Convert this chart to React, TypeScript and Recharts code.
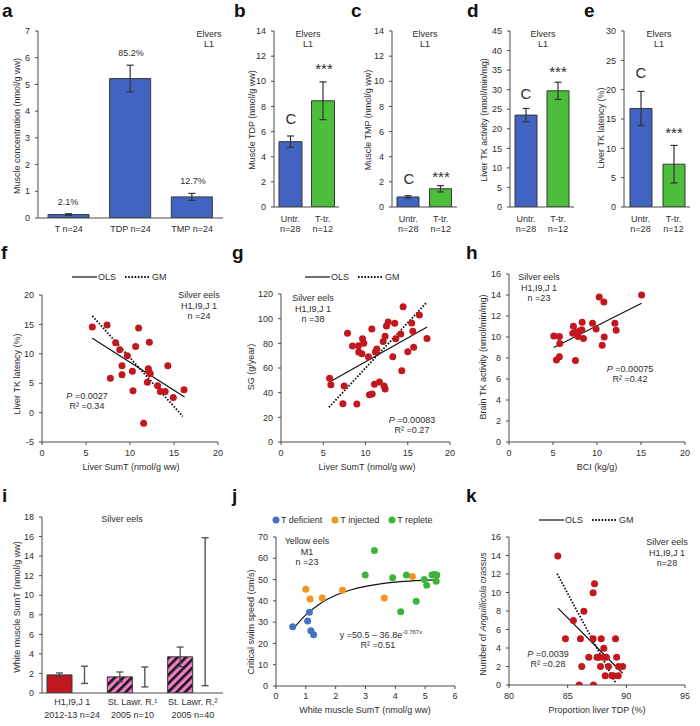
import React from 'react';
import { BarChart, Bar, XAxis, YAxis, ErrorBar, ComposedChart, Scatter, Line, Cell } from 'recharts';

const FONT = '"Liberation Sans", Arial, Helvetica, sans-serif';
const INK = '#2e2e2e';
const AXIS = '#4a4a4a';
const BLUE = '#4163c1';
const GREEN = '#4dbe3b';
const RED = '#c3171f';
const PINK = '#f27cc8';
const J_BLUE = '#4472c4';
const J_ORANGE = '#f39321';
const J_GREEN = '#3db43b';

// a: thiamine forms in elver muscle
const formNames = ['T n=24', 'TDP n=24', 'TMP n=24'];
const formMeans = [0.13, 5.22, 0.79];
const formErr = [0.03, 0.5, 0.13];
const formShare = ['2.1%', '85.2%', '12.7%'];
const formTicks = [0, 1, 2, 3, 4, 5, 6, 7];

// b-e: untreated vs thiamine-treated elvers
const groupNames = ['Untr.|n=28', 'T-tr.|n=12'];
const tdpMeans = [5.2, 8.45];
const tdpErr = [0.45, 1.5];
const tmpMeans = [0.8, 1.45];
const tmpErr = [0.1, 0.25];
const tkActMeans = [23.5, 29.7];
const tkActErr = [1.7, 2.2];
const tkLatMeans = [16.8, 7.3];
const tkLatErr = [2.9, 3.2];
const ticks14 = [0, 2, 4, 6, 8, 10, 12, 14];
const ticks45 = [0, 5, 10, 15, 20, 25, 30, 35, 40, 45];
const ticks30 = [0, 5, 10, 15, 20, 25, 30];

// f: liver SumT vs liver TK latency
const fPoints = [[5.72, 14.57], [7.39, 14.9], [8.37, 11.9], [8.83, 10.67], [9.7, 9.65], [10.64, 11.23], [10.98, 14.4], [12.2, 11.97], [9.09, 7.95], [7.77, 5.86], [9.09, 6.42], [10.27, 7.05], [10.34, 3.71], [12.08, 7.44], [12.3, 6.6], [12.15, 7.0], [11.97, 5.18], [13.14, 4.56], [13.45, 3.6], [14.0, 3.6], [14.3, 7.95], [14.92, 2.58], [16.14, 3.88], [11.55, -1.83]];
const fOls = [[5.72, 12.65], [16.2, 2.64]];
const fGm = [[5.72, 16.44], [16.0, -0.64]];
const fYTicks = [-5, 0, 5, 10, 15, 20];
const sumTTicks = [0, 5, 10, 15, 20];

// g: liver SumT vs growth
const gPoints = [[5.75, 51.6], [5.9, 46.5], [7.48, 45.4], [7.32, 31.1], [7.87, 88.1], [8.46, 77.8], [8.98, 30.8], [9.17, 78.1], [9.2, 73], [9.57, 71.6], [9.65, 83.8], [9.8, 80], [10.35, 69.2], [10.75, 91.6], [10.47, 38.4], [10.79, 38.9], [11.06, 46.8], [11.18, 73], [11.34, 75.4], [11.65, 48.6], [12.2, 45.4], [12.32, 43], [12.09, 81.4], [12.32, 85.7], [12.48, 94], [12.68, 97.3], [13.23, 69.2], [13.46, 96.2], [13.58, 83.8], [14.17, 87.6], [14.29, 57.8], [14.45, 109.7], [15.0, 73.2], [15.47, 96.5], [15.6, 89.7], [15.7, 76.8], [16.38, 103], [17.28, 84]];
const gOls = [[5.75, 48.6], [17.3, 93.2]];
const gGm = [[5.67, 28.1], [17.24, 113.2]];
const gYTicks = [0, 20, 40, 60, 80, 100, 120];

// h: BCI vs brain TK activity
const hPoints = [[5.09, 10.1], [5.73, 10.04], [5.77, 9.38], [5.73, 8.11], [5.39, 7.8], [7.55, 7.76], [7.32, 11.03], [7.25, 10.36], [7.51, 10.42], [7.85, 10.04], [7.97, 10.58], [8.27, 10.7], [8.31, 11.4], [8.46, 9.85], [9.49, 11.31], [9.9, 10.77], [10.25, 13.81], [10.78, 13.34], [10.59, 9.22], [10.82, 10.01], [12.03, 11.31], [12.18, 10.65], [15.07, 14.0]];
const hOls = [[5.09, 9.0], [15.07, 13.21]];
const ticks16 = [0, 2, 4, 6, 8, 10, 12, 14, 16];

// i: white muscle SumT in silver eels
const siteNames = ['H1,I9,J 1|2012-13 n=24', 'St. Lawr. R.\u00b9|2005 n=10', 'St. Lawr. R.\u00b2|2005 n=40'];
const siteMeans = [1.85, 1.65, 3.7];
const siteErr = [0.2, 0.5, 1.0];
const siteLow = [0.98, 0.62, 0.75];
const siteHigh = [2.74, 2.66, 15.88];
const ticks18 = [0, 2, 4, 6, 8, 10, 12, 14, 16, 18];

// j: white muscle SumT vs critical swim speed
const jDeficient = [[0.56, 27.8], [1.06, 30.5], [1.12, 34.6], [1.17, 26], [1.26, 24.1]];
const jInjected = [[1.0, 45.5], [1.14, 40.9], [1.55, 41.4], [2.23, 45], [3.63, 41.4], [4.57, 51.4]];
const jReplete = [[2.99, 52.2], [3.3, 63.7], [3.91, 50.8], [4.18, 34.9], [4.37, 52.2], [4.7, 39.8], [4.97, 50], [5.05, 47.3], [5.23, 52.2], [5.39, 52.2], [5.37, 49.2], [5.3, 52.4]];
const jCurveX = [0.6, 1, 1.5, 2, 2.5, 3, 3.5, 4, 4.5, 5, 5.4];
const jCurveY = [27.3, 33.4, 38.9, 42.6, 45.1, 46.8, 48.0, 48.8, 49.3, 49.7, 49.9];
const jXTicks = [0, 1, 2, 3, 4, 5, 6];
const jYTicks = [0, 10, 20, 30, 40, 50, 60, 70];

// k: liver TDP proportion vs parasites
const kPoints = [[84.16, 13.94], [85.49, 6.97], [84.81, 5], [86.38, 7.98], [86.09, 5], [86.2, 1.99], [85.98, 0], [86.8, 3], [87.29, 10.94], [87.17, 9.97], [87.17, 5], [87.2, 0], [87.86, 5], [87.69, 3], [87.8, 2], [88.08, 3.97], [88.08, 3], [88.2, 1.0], [88.48, 2], [88.77, 1], [89.08, 5], [89.17, 3], [89.31, 1], [89.34, 2], [89.68, 2], [87.5, 3], [88.3, 3], [88.9, 1]];
const kOls = [[84.18, 8.31], [89.68, 1.27]];
const kGm = [[84.1, 12.03], [89.08, 0.25]];
const kXTicks = [80, 85, 90, 95];

const YW = 34;
const MT = 6;
const MR = 10;
const XH = 34;

type Rect = [number, number, number, number];

function frame([x0, y0, x1, y1]: Rect) {
  return { left: x0 - YW, top: y0 - MT, width: x1 - x0 + YW + MR, height: y1 - y0 + MT + XH };
}

const toXY = (pts: number[][]) => pts.map(([x, y]) => ({ x, y }));

function MultiTick(props: any) {
  const { x, y, payload, dy0, gap } = props;
  const lines = String(payload.value).split('|');
  return (
    <text x={x} y={y} textAnchor="middle" fontSize={9} fill={INK} fontFamily={FONT}>
      {lines.map((l, i) => (
        <tspan key={i} x={x} dy={i === 0 ? dy0 : gap}>{l}</tspan>
      ))}
    </text>
  );
}

const yAxisProps = (ticks: number[]) => ({
  width: YW,
  type: 'number' as const,
  domain: [ticks[0], ticks[ticks.length - 1]],
  ticks,
  interval: 0 as const,
  tickSize: 3,
  tickMargin: 5,
  allowDataOverflow: true,
  axisLine: { stroke: AXIS },
  tickLine: { stroke: AXIS },
  tick: { fontSize: 9, fill: INK, fontFamily: FONT },
});

function BarPanel(props: {
  rect: Rect; names: string[]; means: number[]; errs: number[]; colors: string[];
  ticks: number[]; barSize: number; dy0: number; gap: number;
}) {
  const { rect, names, means, errs, colors, ticks, barSize, dy0, gap } = props;
  const data = names.map((name, i) => ({ name, v: means[i], e: errs[i] }));
  const f = frame(rect);
  return (
    <div style={{ position: 'absolute', left: f.left, top: f.top }}>
      <BarChart width={f.width} height={f.height} data={data} margin={{ top: MT, right: MR, bottom: 0, left: 0 }} barCategoryGap={0}>
        <XAxis dataKey="name" height={XH} interval={0} tickLine={false} tickSize={0} tickMargin={0}
          axisLine={{ stroke: AXIS }} tick={(p: any) => <MultiTick {...p} dy0={dy0} gap={gap} />} />
        <YAxis {...yAxisProps(ticks)} />
        <Bar dataKey="v" barSize={barSize} stroke="#383838" strokeWidth={1} isAnimationActive={false}>
          {data.map((d, i) => <Cell key={d.name} fill={colors[i]} />)}
          <ErrorBar dataKey="e" width={3.5} stroke="#333" strokeWidth={1.2} direction="y" />
        </Bar>
      </BarChart>
    </div>
  );
}

const dotShape = (color: string) => (p: any) => <circle cx={p.cx} cy={p.cy} r={3.5} fill={color} />;

function ScatterPanel(props: {
  rect: Rect; xTicks: number[]; yTicks: number[];
  series: { pts: number[][]; color: string }[];
  lines: { pts: number[][]; dotted?: boolean; smooth?: boolean }[];
  xTickMargin?: number;
}) {
  const { rect, xTicks, yTicks, series, lines, xTickMargin = 5 } = props;
  const f = frame(rect);
  return (
    <div style={{ position: 'absolute', left: f.left, top: f.top }}>
      <ComposedChart width={f.width} height={f.height} margin={{ top: MT, right: MR, bottom: 0, left: 0 }}>
        <XAxis type="number" dataKey="x" domain={[xTicks[0], xTicks[xTicks.length - 1]]} ticks={xTicks} interval={0}
          height={XH} tickSize={3} tickMargin={xTickMargin} allowDataOverflow axisLine={{ stroke: AXIS }}
          tickLine={{ stroke: AXIS }} tick={{ fontSize: 9, fill: INK, fontFamily: FONT }} />
        <YAxis dataKey="y" {...yAxisProps(yTicks)} />
        {series.map((s, i) => (
          <Scatter key={'s' + i} data={toXY(s.pts)} dataKey="y" fill={s.color} shape={dotShape(s.color)} isAnimationActive={false} />
        ))}
        {lines.map((l, i) => (
          <Line key={'l' + i} data={toXY(l.pts)} dataKey="y" type={l.smooth ? 'monotone' : 'linear'} stroke="#111"
            strokeWidth={l.dotted ? 1.8 : 1.2} strokeDasharray={l.dotted ? '1.6 1.6' : undefined}
            dot={false} activeDot={false} isAnimationActive={false} />
        ))}
      </ComposedChart>
    </div>
  );
}

function SitePanel() {
  const rect: Rect = [42, 517, 223, 693];
  const f = frame(rect);
  const data = siteNames.map((name, i) => {
    const mid = (siteLow[i] + siteHigh[i]) / 2;
    return { name, v: siteMeans[i], e: siteErr[i], mid, range: [mid - siteLow[i], siteHigh[i] - mid] };
  });
  return (
    <div style={{ position: 'absolute', left: f.left, top: f.top }}>
      <BarChart width={f.width} height={f.height} data={data} margin={{ top: MT, right: MR, bottom: 0, left: 0 }} barGap={0}>
        <XAxis dataKey="name" height={XH} interval={0} tickLine={false} tickSize={0} tickMargin={0}
          axisLine={{ stroke: AXIS }} tick={(p: any) => <MultiTick {...p} dy0={12} gap={13} />} />
        <YAxis {...yAxisProps(ticks18)} />
        <Bar dataKey="v" barSize={25} stroke="#383838" strokeWidth={1} isAnimationActive={false}>
          {data.map((d, i) => <Cell key={d.name} fill={i === 0 ? RED : 'url(#hatch)'} />)}
          <ErrorBar dataKey="e" width={3.5} stroke="#444" strokeWidth={1.2} direction="y" />
        </Bar>
        <Bar dataKey="mid" barSize={25} fill="none" stroke="none" isAnimationActive={false}>
          <ErrorBar dataKey="range" width={3.5} stroke="#555" strokeWidth={1.4} direction="y" />
        </Bar>
      </BarChart>
    </div>
  );
}

function Txt(props: { x: number; y: number; children: React.ReactNode; size?: number; bold?: boolean; anchor?: 'start' | 'middle' | 'end' }) {
  const { x, y, children, size = 9, bold = false, anchor = 'middle' } = props;
  const tx = anchor === 'middle' ? '-50%' : anchor === 'end' ? '-100%' : '0';
  return (
    <div style={{ position: 'absolute', left: x, top: y, transform: `translate(${tx},-50%)`, fontSize: size, fontWeight: bold ? 700 : 400, lineHeight: 1, whiteSpace: 'nowrap', color: bold ? '#111' : INK }}>
      {children}
    </div>
  );
}

function YTitle({ x, y, children }: { x: number; y: number; children: React.ReactNode }) {
  return (
    <div style={{ position: 'absolute', left: x, top: y, transform: 'translate(-50%,-50%) rotate(-90deg)', fontSize: 9, lineHeight: 1, whiteSpace: 'nowrap', color: INK }}>
      {children}
    </div>
  );
}

function FitLegend({ x, y }: { x: number; y: number }) {
  // x = left end of solid line
  return (
    <div style={{ position: 'absolute', left: x, top: y - 6, height: 12, display: 'flex', alignItems: 'center', fontSize: 9, color: INK, whiteSpace: 'nowrap' }}>
      <svg width={25} height={4}><line x1={0} y1={2} x2={25} y2={2} stroke="#111" strokeWidth={1.2} /></svg>
      <span style={{ marginLeft: 1 }}>OLS</span>
      <svg width={25} height={4} style={{ marginLeft: 9 }}><line x1={0} y1={2} x2={25} y2={2} stroke="#111" strokeWidth={1.8} strokeDasharray="1.6 1.6" /></svg>
      <span style={{ marginLeft: 2 }}>GM</span>
    </div>
  );
}

function Stats({ x, y, p, r2 }: { x: number; y: number; p: string; r2: string }) {
  return (
    <>
      <Txt x={x} y={y}><i>P</i> ={p}</Txt>
      <Txt x={x} y={y + 10}>R² ={r2}</Txt>
    </>
  );
}

function Elvers({ x }: { x: number }) {
  return (
    <>
      <Txt x={x} y={34}>Elvers</Txt>
      <Txt x={x} y={44}>L1</Txt>
    </>
  );
}

function Silver({ x, y, n }: { x: number; y: number; n: string }) {
  return (
    <>
      <Txt x={x} y={y}>Silver eels</Txt>
      <Txt x={x} y={y + 10.5}>H1,I9,J 1</Txt>
      <Txt x={x} y={y + 21}>{n}</Txt>
    </>
  );
}

export default function App() {
  const fitPts = jCurveX.map((x, i) => [x, jCurveY[i]]);
  return (
    <div style={{ position: 'absolute', left: 0, top: 0, width: 700, height: 726, background: '#fff', fontFamily: FONT, overflow: 'hidden' }}>
      <svg width={0} height={0} style={{ position: 'absolute' }}>
        <defs>
          <pattern id="hatch" width={6} height={6} patternUnits="userSpaceOnUse" patternTransform="rotate(45)">
            <rect width={6} height={6} fill={PINK} />
            <rect width={2.6} height={6} fill="#151515" />
          </pattern>
        </defs>
      </svg>

      {/* row 1 */}
      <BarPanel rect={[38, 31, 223, 218]} names={formNames} means={formMeans} errs={formErr}
        colors={[BLUE, BLUE, BLUE]} ticks={formTicks} barSize={41} dy0={14} gap={10} />
      <BarPanel rect={[274, 31, 339, 207]} names={groupNames} means={tdpMeans} errs={tdpErr}
        colors={[BLUE, GREEN]} ticks={ticks14} barSize={23} dy0={15} gap={10} />
      <BarPanel rect={[392, 31, 457, 207]} names={groupNames} means={tmpMeans} errs={tmpErr}
        colors={[BLUE, GREEN]} ticks={ticks14} barSize={22} dy0={15} gap={10} />
      <BarPanel rect={[510, 31, 574, 207]} names={groupNames} means={tkActMeans} errs={tkActErr}
        colors={[BLUE, GREEN]} ticks={ticks45} barSize={22} dy0={15} gap={10} />
      <BarPanel rect={[624, 31, 690, 207]} names={groupNames} means={tkLatMeans} errs={tkLatErr}
        colors={[BLUE, GREEN]} ticks={ticks30} barSize={22} dy0={15} gap={10} />

      {/* row 2 */}
      <ScatterPanel rect={[42, 295, 218, 442]} xTicks={sumTTicks} yTicks={fYTicks}
        series={[{ pts: fPoints, color: RED }]} lines={[{ pts: fOls }, { pts: fGm, dotted: true }]} />
      <ScatterPanel rect={[281, 294, 450, 442]} xTicks={sumTTicks} yTicks={gYTicks}
        series={[{ pts: gPoints, color: RED }]} lines={[{ pts: gOls }, { pts: gGm, dotted: true }]} />
      <ScatterPanel rect={[509, 274, 685, 442]} xTicks={sumTTicks} yTicks={ticks16}
        series={[{ pts: hPoints, color: RED }]} lines={[{ pts: hOls }]} />

      {/* row 3 */}
      <SitePanel />
      <ScatterPanel rect={[276, 537, 455, 686]} xTicks={jXTicks} yTicks={jYTicks} xTickMargin={4}
        series={[{ pts: jDeficient, color: J_BLUE }, { pts: jInjected, color: J_ORANGE }, { pts: jReplete, color: J_GREEN }]}
        lines={[{ pts: fitPts, smooth: true }]} />
      <ScatterPanel rect={[509, 537, 685, 685]} xTicks={kXTicks} yTicks={ticks16}
        series={[{ pts: kPoints, color: RED }]} lines={[{ pts: kOls }, { pts: kGm, dotted: true }]} />

      {/* panel letters */}
      <Txt x={2} y={9.5} size={19} bold anchor="start">a</Txt>
      <Txt x={234} y={9.5} size={19} bold anchor="start">b</Txt>
      <Txt x={351} y={9.5} size={19} bold anchor="start">c</Txt>
      <Txt x={467} y={9.5} size={19} bold anchor="start">d</Txt>
      <Txt x={584} y={9.5} size={19} bold anchor="start">e</Txt>
      <Txt x={1} y={252} size={19} bold anchor="start">f</Txt>
      <Txt x={232} y={252} size={19} bold anchor="start">g</Txt>
      <Txt x={466} y={252} size={19} bold anchor="start">h</Txt>
      <Txt x={2} y={495} size={19} bold anchor="start">i</Txt>
      <Txt x={232} y={495} size={19} bold anchor="start">j</Txt>
      <Txt x={466} y={495} size={19} bold anchor="start">k</Txt>

      {/* a */}
      <YTitle x={17} y={126}>Muscle concentration (nmol/g ww)</YTitle>
      <Elvers x={209} />
      <Txt x={68} y={202}>{formShare[0]}</Txt>
      <Txt x={131} y={53}>{formShare[1]}</Txt>
      <Txt x={193} y={181}>{formShare[2]}</Txt>

      {/* b */}
      <YTitle x={252} y={120}>Muscle TDP (nmol/g ww)</YTitle>
      <Elvers x={308} />
      <Txt x={291} y={118} size={15}>C</Txt>
      <Txt x={324} y={68} size={15}>***</Txt>

      {/* c */}
      <YTitle x={368} y={120}>Muscle TMP (nmol/g ww)</YTitle>
      <Elvers x={425} />
      <Txt x={409} y={178} size={15}>C</Txt>
      <Txt x={441} y={175.5} size={15}>***</Txt>

      {/* d */}
      <YTitle x={484} y={120}>Liver TK activity (nmol/min/mg)</YTitle>
      <Elvers x={543} />
      <Txt x={526} y={93} size={15}>C</Txt>
      <Txt x={558} y={70.5} size={15}>***</Txt>

      {/* e */}
      <YTitle x={601} y={128}>Liver TK latency (%)</YTitle>
      <Elvers x={659} />
      <Txt x={641} y={72} size={15}>C</Txt>
      <Txt x={674} y={132} size={15}>***</Txt>

      {/* f */}
      <FitLegend x={72} y={277} />
      <YTitle x={17} y={374}>Liver TK latency (%)</YTitle>
      <Txt x={131} y={467}>Liver SumT (nmol/g ww)</Txt>
      <Silver x={199} y={295} n="n =24" />
      <Stats x={87} y={396} p="0.0027" r2="0.34" />

      {/* g */}
      <FitLegend x={305} y={277} />
      <YTitle x={251} y={367}>SG (g/year)</YTitle>
      <Txt x={367} y={467}>Liver SumT (nmol/g ww)</Txt>
      <Silver x={313} y={298} n="n =38" />
      <Stats x={412} y={420} p="0.00083" r2="0.27" />

      {/* h */}
      <YTitle x={483} y={357}>Brain TK activity (nmol/min/mg)</YTitle>
      <Txt x={597} y={467}>BCI (kg/g)</Txt>
      <Silver x={539} y={277} n="n =23" />
      <Stats x={630} y={369} p="0.00075" r2="0.42" />

      {/* i */}
      <YTitle x={17} y={607}>White muscle SumT (nmol/g ww)</YTitle>
      <Txt x={122} y={519}>Silver eels</Txt>

      {/* j */}
      <div style={{ position: 'absolute', left: 272, top: 514, height: 12, display: 'flex', alignItems: 'center', fontSize: 9, color: INK, whiteSpace: 'nowrap' }}>
        <svg width={8} height={8}><circle cx={4} cy={4} r={3.5} fill={J_BLUE} /></svg>
        <span style={{ marginLeft: 1 }}>T deficient</span>
        <svg width={8} height={8} style={{ marginLeft: 9 }}><circle cx={4} cy={4} r={3.5} fill={J_ORANGE} /></svg>
        <span style={{ marginLeft: 1 }}>T injected</span>
        <svg width={8} height={8} style={{ marginLeft: 9 }}><circle cx={4} cy={4} r={3.5} fill={J_GREEN} /></svg>
        <span style={{ marginLeft: 1 }}>T replete</span>
      </div>
      <YTitle x={251} y={622}>Critical swim speed (cm/s)</YTitle>
      <Txt x={365} y={710}>White muscle SumT (nmol/g ww)</Txt>
      <Txt x={307} y={541}>Yellow eels</Txt>
      <Txt x={307} y={551.5}>M1</Txt>
      <Txt x={307} y={562}>n =23</Txt>
      <Txt x={381} y={634}>y =50.5 – 36.8e<sup style={{ fontSize: 6, verticalAlign: '4px' }}>-0.767x</sup></Txt>
      <Txt x={378} y={644.5}>R² =0.51</Txt>

      {/* k */}
      <FitLegend x={539} y={520} />
      <YTitle x={483} y={614}>Number of <i>Anguillicola crassus</i></YTitle>
      <Txt x={597} y={710}>Proportion liver TDP (%)</Txt>
      <Silver x={667} y={542} n="n=28" />
      <Stats x={548} y={654} p="0.0039" r2="0.28" />
    </div>
  );
}
